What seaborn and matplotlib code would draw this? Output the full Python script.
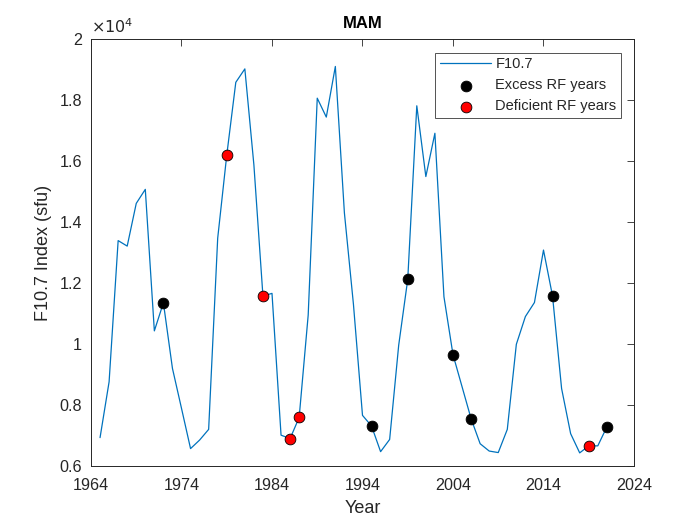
import numpy as np
import pandas as pd
import matplotlib
matplotlib.use("Agg")
import matplotlib.pyplot as plt
import seaborn as sns
from matplotlib.ticker import FuncFormatter

# ---- data ----
years = list(range(1965, 2022))
f107 = [6930, 8760, 13390, 13210, 14610, 15070, 10430, 11350, 9200, 7890,
        6570, 6850, 7200, 13470, 16190, 18580, 19020, 15870, 11570, 11660,
        7010, 6900, 7590, 10950, 18060, 17440, 19100, 14300, 11300, 7660,
        7310, 6470, 6870, 9960, 12120, 17810, 15490, 16910, 11550, 9650,
        8600, 7550, 6730, 6490, 6440, 7200, 9990, 10900, 11360, 13080,
        11570, 8540, 7060, 6430, 6660, 6660, 7280]
excess_years = [1972, 1995, 1999, 2004, 2006, 2015, 2021]
deficient_years = [1979, 1983, 1986, 1987, 2019]
x_ticks = [1964, 1974, 1984, 1994, 2004, 2014, 2024]
y_ticks = [6000, 8000, 10000, 12000, 14000, 16000, 18000, 20000]

df = pd.DataFrame({"Year": years, "F10.7": f107})
exc = df[df["Year"].isin(excess_years)]
dfc = df[df["Year"].isin(deficient_years)]

sns.set_style("white")
plt.rcParams["font.family"] = ["Liberation Sans", "DejaVu Sans"]

fig = plt.figure(figsize=(7, 5.25), dpi=100)
ax = fig.add_axes([0.13, 0.1124, 0.7757, 0.8133])

sns.lineplot(data=df, x="Year", y="F10.7", ax=ax, color="#0072BD",
             linewidth=0.9, label="F10.7")
sns.scatterplot(data=exc, x="Year", y="F10.7", ax=ax, color="black",
                edgecolor="black", s=60, linewidth=0.6, zorder=3,
                label="Excess RF years")
sns.scatterplot(data=dfc, x="Year", y="F10.7", ax=ax, color="red",
                edgecolor="black", s=60, linewidth=0.6, zorder=3,
                label="Deficient RF years")

ax.set_xlim(1964, 2024)
ax.set_ylim(6000, 20000)
ax.set_xticks(x_ticks)
ax.set_yticks(y_ticks)
ax.yaxis.set_major_formatter(FuncFormatter(lambda v, p: f"{v/1e4:g}"))
ax.tick_params(direction="in", length=5, width=0.6, labelsize=11.6,
               top=True, right=True, colors="#262626")
ax.tick_params(axis="y", pad=6.5)
ax.tick_params(axis="x", pad=8.5)
for sp in ax.spines.values():
    sp.set_color("#262626")
    sp.set_linewidth(0.7)

ax.set_xlabel("Year", fontsize=13, color="#262626", labelpad=5)
ax.set_ylabel("F10.7 Index (sfu)", fontsize=13, color="#262626", labelpad=5)
ax.set_title("MAM", fontsize=12, fontweight="bold", color="black", pad=8)
ax.text(0.0, 1.008, r"$\times10^{4}$", transform=ax.transAxes,
        fontsize=11.5, ha="left", va="bottom", color="#262626")

leg = ax.legend(loc="upper right", bbox_to_anchor=(0.9765, 0.968),
                borderaxespad=0, fontsize=10.5, frameon=True, fancybox=False,
                handlelength=3.5, handletextpad=0.3, borderpad=0.32,
                labelspacing=0.48)
leg.get_frame().set_edgecolor("#262626")
leg.get_frame().set_linewidth(0.7)

fig.savefig("out.png", dpi=100, facecolor="white")
